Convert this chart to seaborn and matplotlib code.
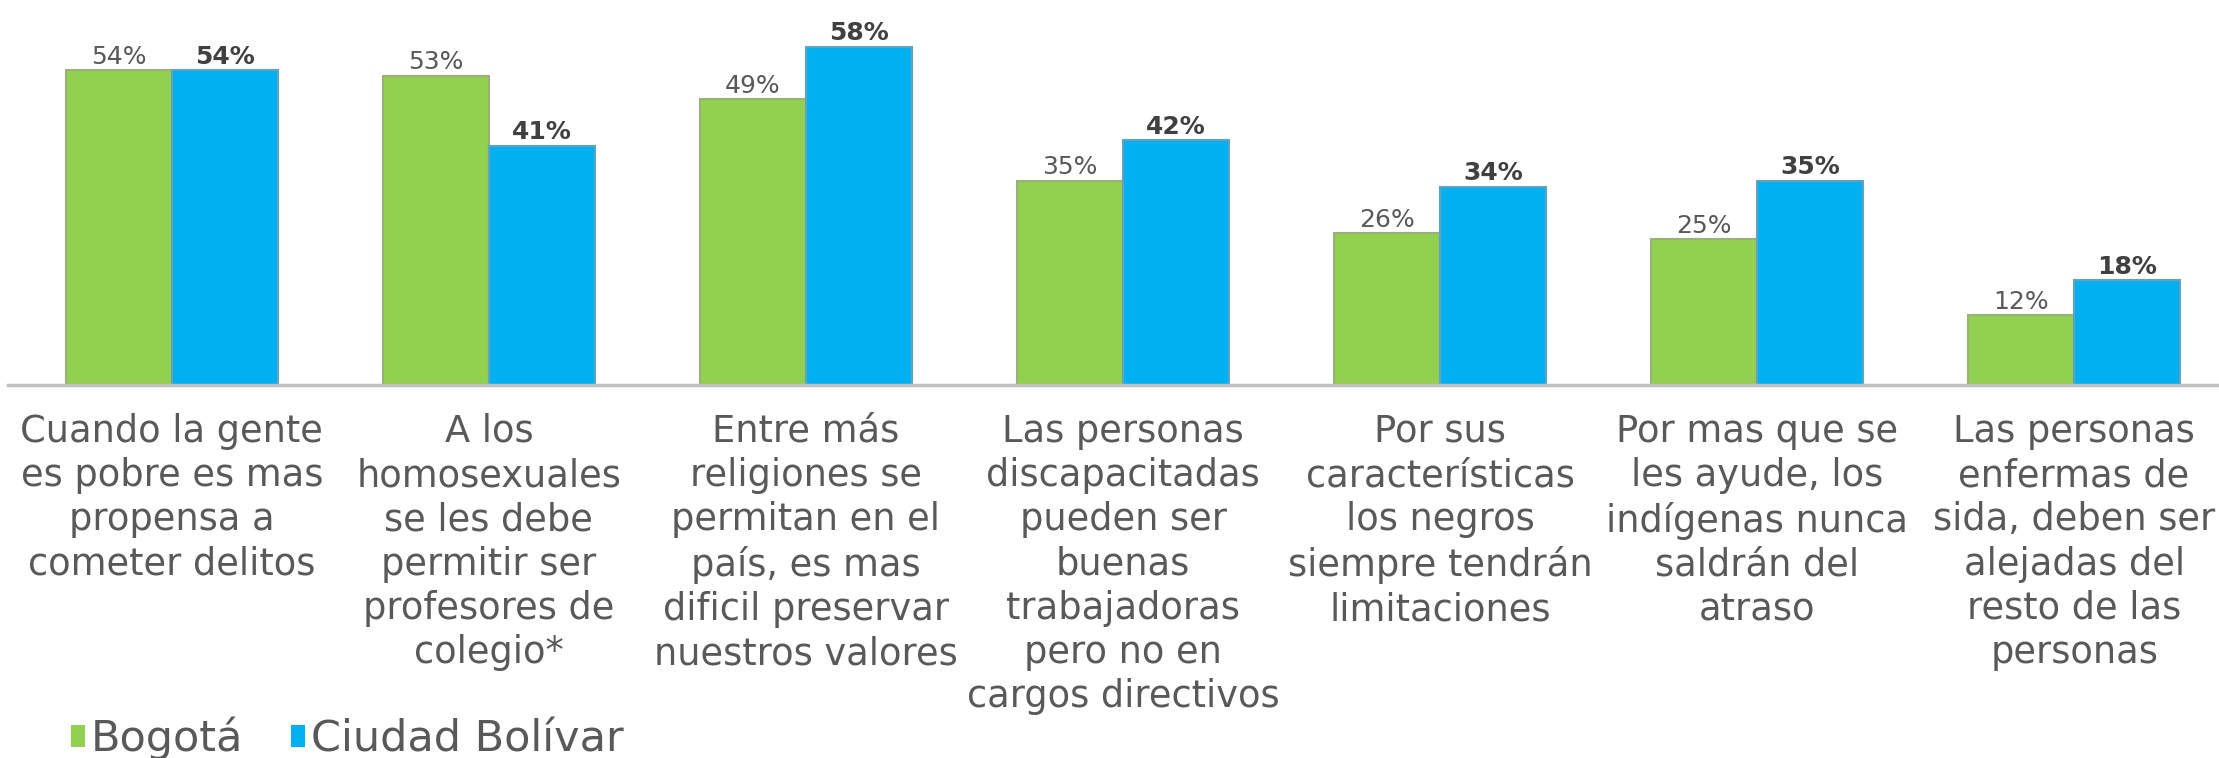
import pandas as pd
import matplotlib.pyplot as plt
import seaborn as sns
from matplotlib.patches import Patch

# Data
categories = [
    "Cuando la gente\nes pobre es mas\npropensa a\ncometer delitos",
    "A los\nhomosexuales\nse les debe\npermitir ser\nprofesores de\ncolegio*",
    "Entre más\nreligiones se\npermitan en el\npaís, es mas\ndificil preservar\nnuestros valores",
    "Las personas\ndiscapacitadas\npueden ser\nbuenas\ntrabajadoras\npero no en\ncargos directivos",
    "Por sus\ncaracterísticas\nlos negros\nsiempre tendrán\nlimitaciones",
    "Por mas que se\nles ayude, los\nindígenas nunca\nsaldrán del\natraso",
    "Las personas\nenfermas de\nsida, deben ser\nalejadas del\nresto de las\npersonas",
]
bogota = [54, 53, 49, 35, 26, 25, 12]
ciudad_bolivar = [54, 41, 58, 42, 34, 35, 18]
series = ["Bogotá", "Ciudad Bolívar"]
colors = ["#92D050", "#00B0F0"]
edge_colors = ["#9BB07A", "#5FA3BF"]

df = pd.DataFrame({
    "categoria": categories * 2,
    "valor": bogota + ciudad_bolivar,
    "zona": [series[0]] * len(categories) + [series[1]] * len(categories),
})

sns.set_style("white")
plt.rcParams["font.family"] = ["DejaVu Sans"]

fig = plt.figure(figsize=(22.19, 7.58), dpi=100)
ax = fig.add_axes([0.0036, 0.492, 0.9964, 0.508])

sns.barplot(data=df, x="categoria", y="valor", hue="zona", palette=colors,
            saturation=1, width=0.67, gap=0, linewidth=0, ax=ax, legend=False)

# subtle outlines and value labels
for i, cont in enumerate(ax.containers):
    for bar in cont:
        bar.set_edgecolor(edge_colors[i])
        bar.set_linewidth(1.5)
    if i == 0:
        ax.bar_label(cont, labels=[f"{v}%" for v in bogota], padding=1,
                     fontsize=18, color="#595959")
    else:
        ax.bar_label(cont, labels=[f"{v}%" for v in ciudad_bolivar], padding=1,
                     fontsize=18, color="#404040", fontweight="bold")

ax.set_xlim(-0.517, 6.457)
ax.set_ylim(0, 66)
ax.set_xlabel("")
ax.set_ylabel("")
ax.set_yticks([])
ax.tick_params(axis="x", length=0, pad=20)
for lbl in ax.get_xticklabels():
    lbl.set_fontsize(26.5)
    lbl.set_color("#595959")
    lbl.set_linespacing(1.25)
    lbl.set_horizontalalignment("center")

sns.despine(ax=ax, left=True, top=True, right=True)
ax.spines["bottom"].set_color("#C0C0C0")
ax.spines["bottom"].set_linewidth(2.5)

handles = [Patch(facecolor=c, edgecolor="none") for c in colors]
fig.legend(handles, series, loc="center left", bbox_to_anchor=(0.032, 0.026),
           ncol=2, frameon=False, fontsize=31, labelcolor="#595959",
           handlelength=0.32, handleheight=0.42, handletextpad=0.15,
           columnspacing=1.1, borderpad=0.0, borderaxespad=0.0)

plt.savefig("out.png", dpi=100)
